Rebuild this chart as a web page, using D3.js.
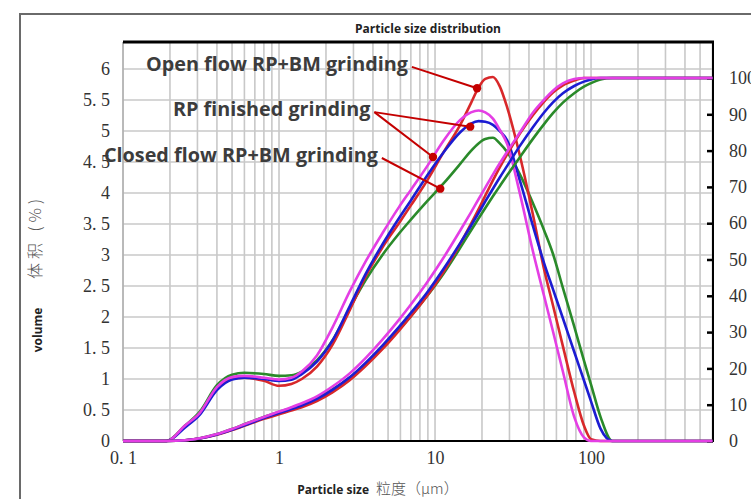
<!DOCTYPE html>
<html lang="en">
<head>
<meta charset="utf-8">
<script src="https://d3js.org/d3.v7.min.js"></script>
<title>Particle size distribution</title>
<style>
    body { margin: 0; background: #fff; }
    svg { display: block; }
    .num { font-family: "Liberation Serif", serif; font-size: 18px; fill: #333; }
    .bold { font-family: "Open Sans", sans-serif; font-weight: 700; }
</style>
</head>
<body>
<div id="container"></div>
<script>
// particle size classes (um)
var sizes = [0.1, 0.19, 0.25, 0.31, 0.4, 0.5, 0.6, 0.8, 1.0, 1.2, 1.4, 1.75, 2.2, 2.85, 3.6, 4.6, 5.9, 7, 9, 11.3,
             14.5, 17, 19, 21, 23.5, 26, 29, 35, 42.5, 50, 57, 66, 78, 90, 100, 115, 137, 200, 600];

// volume frequency (%), left axis
var greenFreq   = [0, 0, 0.25, 0.47, 0.9, 1.07, 1.1, 1.08, 1.05, 1.06, 1.12, 1.3, 1.62, 2.15, 2.6, 3.0, 3.35, 3.57, 3.88, 4.15,
                   4.47, 4.68, 4.8, 4.87, 4.89, 4.8, 4.66, 4.3, 3.83, 3.4, 3.02, 2.47, 1.85, 1.3, 0.91, 0.39, 0, 0, 0];
var redFreq     = [0, 0, 0.24, 0.44, 0.85, 1.0, 1.02, 0.97, 0.89, 0.92, 1.0, 1.2, 1.55, 2.12, 2.66, 3.12, 3.52, 3.8, 4.22, 4.65,
                   5.1, 5.45, 5.7, 5.84, 5.87, 5.72, 5.38, 4.6, 3.64, 2.77, 2.19, 1.53, 0.79, 0.25, 0.03, 0, 0, 0, 0];
var blueFreq    = [0, 0, 0.22, 0.42, 0.82, 0.99, 1.02, 1.0, 0.97, 0.99, 1.08, 1.28, 1.62, 2.18, 2.7, 3.17, 3.6, 3.88, 4.3, 4.65,
                   4.98, 5.12, 5.16, 5.15, 5.1, 5.0, 4.85, 4.2, 3.46, 2.87, 2.45, 1.98, 1.44, 0.98, 0.64, 0.2, 0, 0, 0];
var magentaFreq = [0, 0, 0.25, 0.45, 0.87, 1.03, 1.05, 1.02, 0.99, 1.02, 1.12, 1.38, 1.83, 2.42, 2.9, 3.35, 3.78, 4.05, 4.45, 4.84,
                   5.18, 5.3, 5.33, 5.3, 5.2, 5.02, 4.79, 3.99, 3.05, 2.34, 1.77, 1.12, 0.39, 0.06, 0, 0, 0, 0, 0];

// cumulative volume (%), right axis
var greenCum   = [0, 0, 0.2, 0.75, 1.9, 3.3, 4.6, 6.6, 8.0, 9.1, 10.1, 11.8, 14.2, 17.5, 21.3, 25.8, 30.8, 34.4, 40.2, 46.0,
                  53.2, 58.0, 61.3, 64.2, 67.4, 70.2, 73.2, 78.2, 83.3, 87.3, 90.3, 93.2, 95.8, 97.6, 98.6, 99.6, 100, 100, 100];
var redCum     = [0, 0, 0.2, 0.7, 1.7, 3.0, 4.2, 6.1, 7.4, 8.4, 9.3, 11.0, 13.4, 16.8, 20.7, 25.3, 30.5, 34.3, 40.3, 46.5,
                  54.3, 59.8, 63.8, 67.6, 71.8, 75.4, 79.0, 84.7, 89.8, 93.5, 96.0, 98.0, 99.3, 100, 100, 100, 100, 100, 100];
var blueCum    = [0, 0, 0.2, 0.7, 1.8, 3.1, 4.3, 6.3, 7.7, 8.8, 9.8, 11.6, 14.1, 17.6, 21.6, 26.3, 31.5, 35.3, 41.2, 47.3,
                  54.5, 59.3, 62.8, 66.0, 69.5, 72.6, 75.8, 81.3, 86.5, 90.5, 93.3, 95.8, 97.8, 99.0, 99.6, 100, 100, 100, 100];
var magentaCum = [0, 0, 0.2, 0.75, 1.9, 3.3, 4.6, 6.6, 8.1, 9.3, 10.4, 12.3, 15.0, 18.7, 22.9, 27.9, 33.5, 37.6, 44.0, 50.4,
                  58.0, 63.0, 66.6, 69.8, 73.4, 76.5, 79.7, 85.0, 90.5, 94.0, 96.5, 98.5, 99.7, 100, 100, 100, 100, 100, 100];

var seriesColors = ["#2a8a2a", "#d8282a", "#1c1cd2", "#e43ee4"];

var leftTicks = [0, 0.5, 1, 1.5, 2, 2.5, 3, 3.5, 4, 4.5, 5, 5.5, 6];
var rightTicks = [0, 10, 20, 30, 40, 50, 60, 70, 80, 90, 100];
var xTicks = [0.1, 1, 10, 100];
var xTickLabels = ["0. 1", "1", "10", "100"];

// annotations: label text, label end position (size, volume), pointer dots (label index, size, volume)
var labelTexts = ["Open flow RP+BM grinding", "RP finished grinding", "Closed flow RP+BM grinding"];
var labelSize = [6.7, 3.85, 4.3];
var labelVolume = [5.97, 5.24, 4.5];
var pointerLabel = [0, 1, 1, 2];
var pointerSize = [18.6, 16.8, 9.7, 10.8];
var pointerVolume = [5.69, 5.07, 4.58, 4.07];

var W = 751, H = 499;
var margin = {top: 42, right: 38, bottom: 58, left: 123};

var svg = d3.select("#container").append("svg")
    .attr("width", W)
    .attr("height", H);

var x = d3.scaleLog().domain([0.1, 605]).range([margin.left, W - margin.right]);
var yL = d3.scaleLinear().domain([0, 6]).range([H - margin.bottom, H - margin.bottom - 372]);
var yR = d3.scaleLinear().domain([0, 100]).range([H - margin.bottom, H - margin.bottom - 363]);

var x0 = margin.left, x1 = W - margin.right, yTop = margin.top, yBot = H - margin.bottom;

// outer frame
svg.append("path")
    .attr("d", "M20," + H + "V14H" + W)
    .attr("fill", "none")
    .attr("stroke", "#6a6a6a")
    .attr("stroke-width", 2);

// grid
var grid = svg.append("g");
grid.selectAll(".gx")
    .data(x.ticks())
    .enter().append("line")
    .attr("x1", function(d) { return x(d); })
    .attr("x2", function(d) { return x(d); })
    .attr("y1", yTop).attr("y2", yBot)
    .attr("stroke", "#c8c8c8").attr("stroke-width", 1.6);
grid.selectAll(".gy")
    .data(leftTicks.slice(1))
    .enter().append("line")
    .attr("x1", x0).attr("x2", x1)
    .attr("y1", function(d) { return yL(d); })
    .attr("y2", function(d) { return yL(d); })
    .attr("stroke", "#c8c8c8").attr("stroke-width", 1.6);

// plot border
svg.append("line").attr("x1", x0).attr("x2", x0).attr("y1", yTop).attr("y2", yBot)
    .attr("stroke", "#a0a0a0").attr("stroke-width", 1);
svg.append("line").attr("x1", x0).attr("x2", x1 + 1).attr("y1", yTop).attr("y2", yTop)
    .attr("stroke", "#000").attr("stroke-width", 3);
svg.append("line").attr("x1", x1).attr("x2", x1).attr("y1", yTop).attr("y2", yBot)
    .attr("stroke", "#000").attr("stroke-width", 2);
svg.append("line").attr("x1", x0).attr("x2", x1 + 1).attr("y1", yBot).attr("y2", yBot)
    .attr("stroke", "#000").attr("stroke-width", 2);

// axes
var fmt = function(d) { return String(d).replace(".", ". "); };

var axL = svg.append("g")
    .attr("transform", "translate(" + x0 + ",0)")
    .call(d3.axisLeft(yL).tickValues(leftTicks).tickFormat(fmt).tickSize(0).tickPadding(13));
var axR = svg.append("g")
    .attr("transform", "translate(" + x1 + ",0)")
    .call(d3.axisRight(yR).tickValues(rightTicks).tickSize(-6).tickPadding(16));
var axB = svg.append("g")
    .attr("transform", "translate(0," + yBot + ")")
    .call(d3.axisBottom(x).tickValues(xTicks).tickFormat(function(d, i) { return xTickLabels[i]; })
        .tickSize(0).tickPadding(10));

[axL, axR, axB].forEach(function(ax) {
    ax.attr("font-family", null).attr("font-size", null);
    ax.select(".domain").remove();
    ax.selectAll("text").attr("class", "num").attr("fill", null);
});
axR.selectAll(".tick line").attr("stroke", "#000").attr("stroke-width", 2.5);

// curves
var lineL = d3.line()
    .x(function(d, i) { return x(sizes[i]); })
    .y(function(d) { return yL(d); })
    .curve(d3.curveMonotoneX);
var lineR = d3.line()
    .x(function(d, i) { return x(sizes[i]); })
    .y(function(d) { return yR(d); })
    .curve(d3.curveMonotoneX);

var freqSeries = [greenFreq, redFreq, blueFreq, magentaFreq];
var cumSeries = [greenCum, redCum, blueCum, magentaCum];

var curves = svg.append("g").attr("fill", "none").attr("stroke-width", 2.6).attr("stroke-linejoin", "round");
freqSeries.forEach(function(s, i) {
    curves.append("path").attr("d", lineL(s)).attr("stroke", seriesColors[i]);
});
cumSeries.forEach(function(s, i) {
    curves.append("path").attr("d", lineR(s)).attr("stroke", seriesColors[i]);
});

// annotations
var ann = svg.append("g");
ann.selectAll(".lead")
    .data(pointerLabel)
    .enter().append("line")
    .attr("x1", function(d) { return x(labelSize[d]) + 4; })
    .attr("y1", function(d) { return yL(labelVolume[d]) - 4; })
    .attr("x2", function(d, i) { return x(pointerSize[i]); })
    .attr("y2", function(d, i) { return yL(pointerVolume[i]); })
    .attr("stroke", "#c40000").attr("stroke-width", 2);
ann.selectAll(".dot")
    .data(pointerLabel)
    .enter().append("circle")
    .attr("cx", function(d, i) { return x(pointerSize[i]); })
    .attr("cy", function(d, i) { return yL(pointerVolume[i]); })
    .attr("r", 4.2)
    .attr("fill", "#c40000");
ann.selectAll(".lab")
    .data(labelTexts)
    .enter().append("text")
    .attr("class", "bold")
    .attr("x", function(d, i) { return x(labelSize[i]); })
    .attr("y", function(d, i) { return yL(labelVolume[i]); })
    .attr("text-anchor", "end")
    .attr("font-size", 19.8)
    .attr("fill", "#3c3c3c")
    .text(function(d) { return d; });

// titles
svg.append("text").attr("class", "bold")
    .attr("x", 428).attr("y", 33)
    .attr("text-anchor", "middle").attr("font-size", 12).attr("fill", "#222")
    .text("Particle size distribution");

svg.append("text").attr("class", "bold")
    .attr("x", 369).attr("y", 494)
    .attr("text-anchor", "end").attr("font-size", 12).attr("fill", "#222")
    .text("Particle size");
svg.append("text")
    .attr("x", 376).attr("y", 494)
    .attr("font-family", "Noto Sans CJK SC").attr("font-weight", 300)
    .attr("font-size", 15).attr("fill", "#555")
    .text("粒度（μm）");

svg.append("text")
    .attr("transform", "translate(34,237) rotate(-90)")
    .attr("text-anchor", "middle").attr("dominant-baseline", "central")
    .attr("font-family", "Noto Sans CJK SC").attr("font-weight", 300)
    .attr("font-size", 16).attr("letter-spacing", 4).attr("fill", "#555")
    .text("体积 (%)");
svg.append("text").attr("class", "bold")
    .attr("transform", "translate(37,330) rotate(-90)")
    .attr("text-anchor", "middle").attr("dominant-baseline", "central")
    .attr("font-size", 12).attr("fill", "#222")
    .text("volume");
</script>
</body>
</html>
